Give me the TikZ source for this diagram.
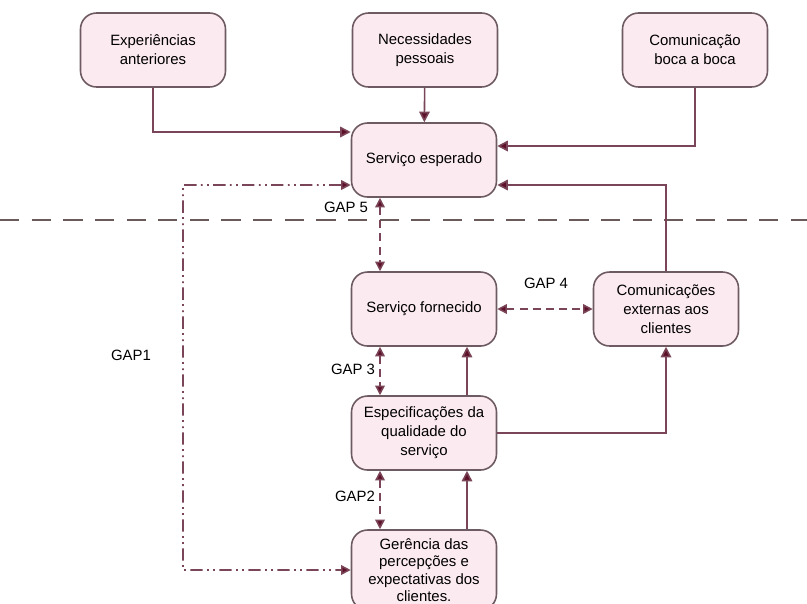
\documentclass[tikz,border=0pt]{standalone}
\usepackage{fontspec}
\setmainfont{Liberation Sans}
\usepackage{tikz}
\usetikzlibrary{positioning}
\usetikzlibrary{arrows.meta}

\definecolor{boxfill}{HTML}{FBEAF0}
\definecolor{boxline}{HTML}{6E5A62}
\definecolor{conline}{HTML}{7A4558}
\definecolor{tipcol}{HTML}{5E1028}
\definecolor{sepline}{HTML}{6A5A5A}

\tikzset{
	caixa/.style={draw=boxline, fill=boxfill, line width=0.9pt, rounded corners=0.32cm,
		minimum width=2.9cm, minimum height=1.48cm, align=center,
		font=\fontsize{8.5}{10.8}\selectfont},
	seta/.style={draw=conline, line width=0.9pt, -{Triangle[length=6pt,width=6pt,fill=tipcol]}},
	gapseta/.style={draw=conline, line width=0.9pt, dash pattern=on 4.5pt off 3pt,
		{Triangle[length=5.5pt,width=5.5pt,fill=tipcol]}-{Triangle[length=5.5pt,width=5.5pt,fill=tipcol]}},
	gaprotulo/.style={font=\fontsize{8.5}{10}\selectfont, inner sep=1pt}
}

\begin{document}
\begin{tikzpicture}[x=0.02cm, y=-0.02cm]
		\clip (0,0) rectangle (807,603);
		%\draw[gray,step=50] (0,0) grid (807,603);
		% caixas
		\node[caixa] (exp) at (153,50) {Experiências\\anteriores};
		\node[caixa] (nec) at (425,50) {Necessidades\\pessoais};
		\node[caixa] (boca) at (695,50) {Comunicação\\boca a boca};
		\node[caixa] (esp) at (424,160) {Serviço esperado};
		\node[caixa] (forn) at (424,309) {Serviço fornecido};
		\node[caixa] (ext) at (666,309) {Comunicações\\externas aos\\clientes};
		\node[caixa] (spec) at (424,433) {Especificações da\\qualidade do\\serviço};
		\node[caixa, minimum height=1.6cm, font=\fontsize{8.5}{9.9}\selectfont] (ger) at (424,570) {Gerência das\\percepções e\\expectativas dos\\clientes.};
		% linha divisoria
		\draw[sepline, line width=0.9pt, dash pattern=on 11pt off 7pt] (0,220) -- (807,220);
		% setas cheias
		\draw[seta] (exp) |- ([yshift=0.56cm]esp.west);
		\draw[seta] (nec) -- (esp);
		\draw[seta] (boca) |- ([yshift=0.28cm]esp.east);
		\draw[seta] (ext) |- ([yshift=-0.5cm]esp.east);
		\draw[seta] ([xshift=0.86cm]spec.north) -- ([xshift=0.86cm]forn.south);
		\draw[seta] ([xshift=0.86cm]ger.north) -- ([xshift=0.86cm]spec.south);
		\draw[seta] (spec.east) -| (ext.south);
		% gaps
		\coordinate (g1a) at (183,185);
		\draw[gapseta, dash pattern=on 7pt off 2.5pt on 1pt off 2.5pt on 1pt off 2.5pt]
			([yshift=-0.5cm]esp.west) -- (g1a) |- (ger.west);
		\draw[gapseta] ([xshift=-0.88cm]esp.south) -- ([xshift=-0.88cm]forn.north);
		\draw[gapseta] (forn.east) -- (ext.west);
		\draw[gapseta] ([xshift=-0.88cm]forn.south) -- ([xshift=-0.88cm]spec.north);
		\draw[gapseta] ([xshift=-0.88cm]spec.south) -- ([xshift=-0.88cm]ger.north);
		% rotulos
		\node[gaprotulo] (gap1) at (131,355) {GAP1};
		\node[gaprotulo] (gap2) at (355,496) {GAP2};
		\node[gaprotulo] (gap3) at (353,369) {GAP 3};
		\node[gaprotulo] (gap4) at (546,283) {GAP 4};
		\node[gaprotulo] (gap5) at (346,207) {GAP 5};
	\end{tikzpicture}
\end{document}
